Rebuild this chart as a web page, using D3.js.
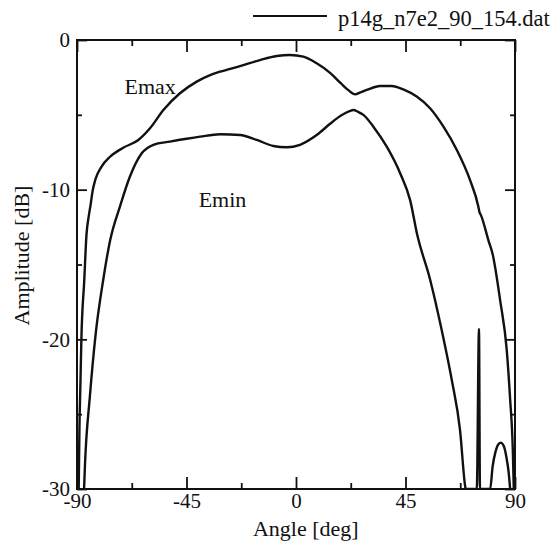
<!DOCTYPE html>
<html>
<head>
<meta charset="utf-8">
<script src="https://cdn.jsdelivr.net/npm/d3@7"></script>
<style>
  body { margin: 0; background: #fff; }
  text { font-family: "Liberation Serif", "Times New Roman", Times, serif; fill: #111; }
</style>
</head>
<body>
<div id="chart-area"></div>
<script>
// data: angle [deg] and amplitude [dB]
const emaxAngles = [-89.3, -89.0, -88.6, -88.2, -87.0, -86.1, -85.2, -84.4, -83.6, -82.4, -79.9, -76.4, -71.0,
  -64.8, -60.0, -54.5, -47.7, -40.8, -35.3, -31.2, -23.0, -14.8, -7.9, -2.5, 3.0, 8.5, 14.0, 18.5, 21.5,
  24.3, 26.5, 29.1, 34.5, 39.3, 44.1, 49.6, 55.1, 60.6, 66.1, 71.5, 74.9, 75.4, 76.0, 79.1, 80.8, 83.9,
  86.6, 88.0, 89.1, 89.5]
const emaxValues = [-30, -26, -23, -20, -16, -13, -11.8, -11.0, -10.1, -9.3, -8.46, -7.8, -7.2,
  -6.68, -5.9, -4.68, -3.56, -2.78, -2.34, -2.12, -1.74, -1.34, -1.07, -1.0, -1.11, -1.56, -2.2, -2.9, -3.35,
  -3.63, -3.5, -3.34, -3.07, -3.07, -3.3, -3.78, -4.56, -5.79, -7.35, -9.35, -11.1, -11.5, -11.7, -13.4, -14.3, -17.4,
  -20.7, -24, -27.4, -30]

const eminAngles = [-87.1, -86.7, -84.7, -82.3, -79.2, -76.4, -72.3, -68.2, -63.4, -58.6, -51.8, -45.0,
  -39.4, -31.2, -23.0, -16.1, -9.3, -3.8, 1.65, 8.5, 14.0, 18.5, 22.0, 23.6, 25.5, 27.7, 31.8, 37.3, 42.8,
  46.9, 49.8, 55.1, 59.9, 64.0, 67.4, 69.5, 69.7, 74.3, 75.2, 75.6, 79.8, 80.8, 82.0, 83.0, 84.1, 85.3,
  86.5, 87.4, 88.0]
const eminValues = [-30, -28.3, -23.8, -19.6, -16.0, -13.4, -11.1, -9.1, -7.57, -7.0, -6.79, -6.6,
  -6.46, -6.3, -6.35, -6.68, -7.08, -7.17, -7.0, -6.35, -5.6, -5.05, -4.75, -4.68, -4.8, -5.0, -5.79, -7.13, -8.9,
  -10.7, -13.0, -16.0, -19.4, -22.7, -26.05, -29.8, -30, -30, -19.3, -30, -30, -28.5, -27.5, -27.05, -26.9, -27.1,
  -27.9, -28.9, -30]

// tick labels
const xMajorTicks = [-90, -45, 0, 45, 90]
const xMinorTicks = [-67.5, -22.5, 22.5, 67.5]
const yMajorTicks = [0, -10, -20, -30]
const yMinorTicks = [-5, -15, -25]

const curveLabels = ["Emax", "Emin"]
const legendLabel = "p14g_n7e2_90_154.dat"

const MARGIN = { LEFT: 77, RIGHT: 43, TOP: 40, BOTTOM: 53 }
const WIDTH = 558 - MARGIN.LEFT - MARGIN.RIGHT
const HEIGHT = 542 - MARGIN.TOP - MARGIN.BOTTOM

const svg = d3.select("#chart-area").append("svg")
    .attr("width", WIDTH + MARGIN.LEFT + MARGIN.RIGHT)
    .attr("height", HEIGHT + MARGIN.TOP + MARGIN.BOTTOM)

const g = svg.append("g")
    .attr("transform", `translate(${MARGIN.LEFT}, ${MARGIN.TOP})`)

// scales
const x = d3.scaleLinear().domain([-90, 90]).range([0, WIDTH])
const y = d3.scaleLinear().domain([-30, 0]).range([HEIGHT, 0])

// plain hyphen like the original, not the unicode minus
const plainFormat = d => String(d)

// clip so curves stop at the frame
g.append("clipPath").attr("id", "plot-clip")
  .append("rect")
    .attr("width", WIDTH)
    .attr("height", HEIGHT)

// axes, ticks pointing inward
function styleAxis(sel) {
    sel.select(".domain").remove()
    sel.selectAll(".tick line").attr("stroke", "#111").attr("stroke-width", 1.8)
    sel.selectAll(".tick text")
        .attr("font-family", "Liberation Serif, serif")
        .attr("font-size", "21px")
        .attr("fill", "#111")
}

g.append("g")
    .attr("transform", `translate(0, ${HEIGHT})`)
    .call(d3.axisBottom(x).tickValues(xMajorTicks).tickSizeInner(-12).tickSizeOuter(0).tickPadding(4).tickFormat(plainFormat))
    .call(styleAxis)
g.append("g")
    .attr("transform", `translate(0, ${HEIGHT})`)
    .call(d3.axisBottom(x).tickValues(xMinorTicks).tickSizeInner(-6).tickSizeOuter(0).tickFormat(""))
    .call(styleAxis)
g.append("g")
    .call(d3.axisTop(x).tickValues(xMajorTicks).tickSizeInner(-12).tickSizeOuter(0).tickFormat(""))
    .call(styleAxis)
g.append("g")
    .call(d3.axisTop(x).tickValues(xMinorTicks).tickSizeInner(-6).tickSizeOuter(0).tickFormat(""))
    .call(styleAxis)

g.append("g")
    .call(d3.axisLeft(y).tickValues(yMajorTicks).tickSizeInner(-10).tickSizeOuter(0).tickPadding(7).tickFormat(plainFormat))
    .call(styleAxis)
g.append("g")
    .call(d3.axisLeft(y).tickValues(yMinorTicks).tickSizeInner(-5).tickSizeOuter(0).tickFormat(""))
    .call(styleAxis)
g.append("g")
    .attr("transform", `translate(${WIDTH}, 0)`)
    .call(d3.axisRight(y).tickValues(yMajorTicks).tickSizeInner(-10).tickSizeOuter(0).tickFormat(""))
    .call(styleAxis)
g.append("g")
    .attr("transform", `translate(${WIDTH}, 0)`)
    .call(d3.axisRight(y).tickValues(yMinorTicks).tickSizeInner(-5).tickSizeOuter(0).tickFormat(""))
    .call(styleAxis)

// frame
g.append("rect")
    .attr("width", WIDTH)
    .attr("height", HEIGHT)
    .attr("fill", "none")
    .attr("stroke", "#111")
    .attr("stroke-width", 2)

// curves
const line = d3.line()
    .x(d => x(d[0]))
    .y(d => y(d[1]))
    .curve(d3.curveMonotoneX)

const emax = d3.zip(emaxAngles, emaxValues)
const emin = d3.zip(eminAngles, eminValues)

g.append("path")
    .attr("clip-path", "url(#plot-clip)")
    .attr("fill", "none")
    .attr("stroke", "#111")
    .attr("stroke-width", 2.4)
    .attr("d", line(emax))
g.append("path")
    .attr("clip-path", "url(#plot-clip)")
    .attr("fill", "none")
    .attr("stroke", "#111")
    .attr("stroke-width", 2.4)
    .attr("d", line(emin))

// curve labels
g.append("text")
    .attr("x", x(-70.5))
    .attr("y", y(-3.6))
    .attr("font-size", "22px")
    .text(curveLabels[0])
g.append("text")
    .attr("x", x(-40))
    .attr("y", y(-11.15))
    .attr("font-size", "22px")
    .text(curveLabels[1])

// axis labels
g.append("text")
    .attr("x", x(4))
    .attr("y", HEIGHT + 47)
    .attr("font-size", "22px")
    .attr("text-anchor", "middle")
    .text("Angle [deg]")
g.append("text")
    .attr("transform", `translate(-48, ${y(-14.4)}) rotate(-90)`)
    .attr("font-size", "22px")
    .attr("text-anchor", "middle")
    .text("Amplitude [dB]")

// legend
const legend = svg.append("g")
legend.append("line")
    .attr("x1", 253).attr("x2", 327)
    .attr("y1", 16).attr("y2", 16)
    .attr("stroke", "#111")
    .attr("stroke-width", 2)
legend.append("text")
    .attr("x", 338)
    .attr("y", 26)
    .attr("font-size", "22.5px")
    .text(legendLabel)
</script>
</body>
</html>
